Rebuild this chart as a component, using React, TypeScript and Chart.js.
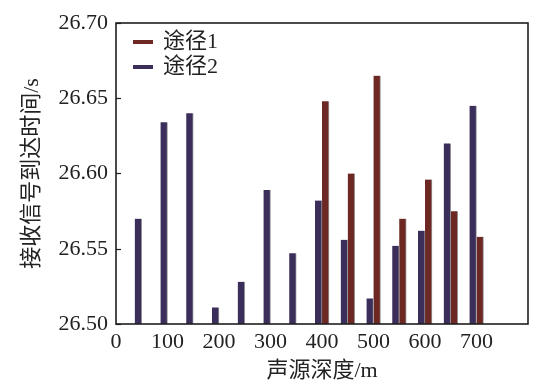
import React, { useEffect, useRef } from "react";
import { Chart, registerables } from "chart.js";

Chart.register(...registerables);

const depths = [50, 100, 150, 200, 250, 300, 350, 400, 450, 500, 550, 600, 650, 700];
const path1 = [null, null, null, null, null, null, null, 26.648, 26.600, 26.665, 26.570, 26.596, 26.575, 26.558];
const path2 = [26.570, 26.634, 26.640, 26.511, 26.528, 26.589, 26.547, 26.582, 26.556, 26.517, 26.552, 26.562, 26.620, 26.645];
const seriesNames = ["途径1", "途径2"];
const seriesColors = ["#6d2823", "#3b2e5b"];
const yTicks = [26.5, 26.55, 26.6, 26.65, 26.7];
const xTicks = [0, 100, 200, 300, 400, 500, 600, 700];

const FONT = '"Liberation Serif", "Noto Sans CJK SC", serif';

const framePlugin = {
  id: "frame",
  afterDraw(chart: any) {
    const { ctx, chartArea } = chart;
    const { left, right, top, bottom } = chartArea;
    const y = chart.scales.y;
    ctx.save();
    ctx.strokeStyle = "#1e1e1e";
    ctx.lineWidth = 1.6;
    ctx.strokeRect(left, top, right - left, bottom - top);
    ctx.lineWidth = 1.2;
    yTicks.forEach((v) => {
      const py = Math.round(y.getPixelForValue(v)) + 0.5;
      ctx.beginPath();
      ctx.moveTo(left, py);
      ctx.lineTo(left + 5, py);
      ctx.stroke();
    });
    // legend
    ctx.font = "22px " + FONT;
    ctx.textBaseline = "middle";
    ctx.textAlign = "left";
    seriesNames.forEach((name, i) => {
      const cy = top + 19 + i * 25;
      ctx.fillStyle = seriesColors[i];
      ctx.fillRect(left + 17, cy - 2, 20, 4);
      ctx.fillStyle = "#222";
      ctx.fillText(name, left + 47, cy);
    });
    ctx.restore();
  },
};

export default function App() {
  const ref = useRef<HTMLCanvasElement | null>(null);
  useEffect(() => {
    if (!ref.current) return;
    const chart = new Chart(ref.current, {
      type: "bar",
      data: {
        datasets: [
          {
            label: seriesNames[1],
            data: depths.map((d, i) => ({ x: d, y: path2[i] })) as any,
            backgroundColor: seriesColors[1],
            borderColor: "#9a9a9a",
            borderWidth: { left: 0, right: 1, top: 0, bottom: 0 } as any,
            barThickness: 7,
          },
          {
            label: seriesNames[0],
            data: depths.map((d, i) => ({ x: d, y: path1[i] })) as any,
            backgroundColor: seriesColors[0],
            borderColor: "#9a9a9a",
            borderWidth: { left: 0, right: 1, top: 0, bottom: 0 } as any,
            barThickness: 7,
          },
        ],
      },
      options: {
        animation: false,
        responsive: false,
        maintainAspectRatio: false,
        layout: { padding: { left: 0, right: 14, top: 23, bottom: 0 } },
        plugins: { legend: { display: false }, tooltip: { enabled: false } },
        scales: {
          x: {
            type: "linear",
            min: 0,
            max: 800,
            offset: false,
            afterFit: (s: any) => {
              s.height = 67;
            },
            afterBuildTicks: (s: any) => {
              s.ticks = xTicks.map((v) => ({ value: v }));
            },
            grid: { display: false, drawTicks: false },
            border: { display: false },
            ticks: {
              padding: 5,
              color: "#222",
              font: { family: FONT, size: 22 },
              maxRotation: 0,
              callback: (v: any) => String(v),
            },
            title: {
              display: true,
              text: "声源深度/m",
              color: "#222",
              font: { family: FONT, size: 22 },
              padding: { top: 0, bottom: 7 },
            },
          },
          y: {
            min: 26.5,
            max: 26.7,
            afterFit: (s: any) => {
              s.width = 116;
            },
            afterBuildTicks: (s: any) => {
              s.ticks = yTicks.map((v) => ({ value: v }));
            },
            grid: { display: false, drawTicks: false },
            border: { display: false },
            ticks: {
              padding: 8,
              color: "#222",
              font: { family: FONT, size: 22 },
              callback: (v: any) => Number(v).toFixed(2),
            },
            title: {
              display: true,
              text: "接收信号到达时间/s",
              color: "#222",
              font: { family: FONT, size: 22 },
              padding: { top: 19, bottom: 0 },
            },
          },
        },
      } as any,
      plugins: [framePlugin],
    });
    return () => chart.destroy();
  }, []);
  return (
    <div style={{ position: "fixed", left: 0, top: 0, width: 542, height: 391, background: "#fff" }}>
      <canvas ref={ref} width={542} height={391} style={{ width: 542, height: 391, display: "block" }} />
    </div>
  );
}
